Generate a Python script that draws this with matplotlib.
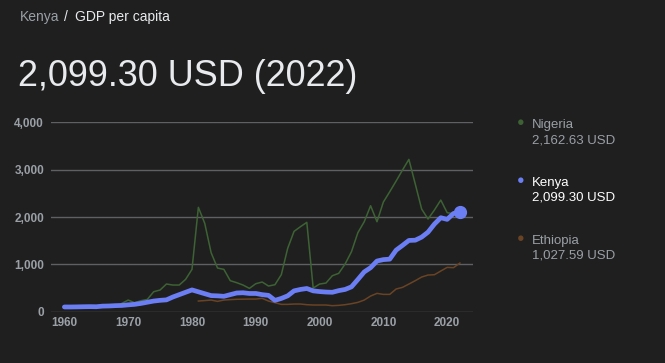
import matplotlib
matplotlib.use("Agg")
import matplotlib.pyplot as plt
from matplotlib.ticker import FuncFormatter

years = list(range(1960, 2023))

kenya = [100, 100, 102, 105, 107, 105, 118, 121, 128, 132,
         145, 155, 175, 200, 225, 240, 250, 310, 360, 410,
         460, 420, 380, 340, 335, 325, 360, 395, 400, 385,
         385, 360, 345, 240, 280, 335, 440, 470, 490, 440,
         425, 415, 410, 445, 470, 525, 680, 840, 930, 1070,
         1100, 1110, 1300, 1400, 1505, 1510, 1575, 1680, 1850, 1985,
         1950, 2075, 2099.30]

nigeria = [93, 97, 106, 112, 116, 113, 114, 98, 96, 176,
           246, 190, 232, 260, 422, 458, 585, 563, 563, 683,
           894, 2204, 1866, 1246, 922, 894, 655, 613, 563, 493,
           591, 627, 542, 570, 781, 1338, 1697, 1795, 1887, 500,
           584, 605, 760, 810, 1007, 1267, 1668, 1900, 2238, 1900,
           2316, 2534, 2760, 2992, 3217, 2696, 2168, 1957, 2147, 2358,
           2091, 2070, 2162.63]

eth_years = list(range(1981, 2023))
ethiopia = [225, 235, 246, 218, 246, 255, 262, 265, 267,
            267, 282, 225, 190, 155, 155, 162, 162, 148, 141,
            141, 141, 127, 134, 148, 169, 197, 246, 331, 387,
            366, 366, 479, 514, 584, 655, 732, 774, 781, 859,
            936, 930, 1027.59]

legend_names = ["Nigeria", "Kenya", "Ethiopia"]
legend_values = ["2,162.63 USD", "2,099.30 USD", "1,027.59 USD"]

bg = "#1f1f1f"
c_kenya = "#6c7ef4"
c_nigeria = "#3d6234"
c_ethiopia = "#6a4324"
c_grid = "#5f6063"
c_tick = "#9aa0a6"

fig = plt.figure(figsize=(6.65, 3.63), dpi=100, facecolor=bg)
plt.rcParams['font.family'] = ['Liberation Sans', 'DejaVu Sans']

ax = fig.add_axes([51 / 665, 1 - 311.7 / 363, 422 / 665, 189.4 / 363])
ax.set_facecolor(bg)

ax.plot(years, nigeria, color=c_nigeria, lw=1.1, clip_on=False, zorder=3)
ax.plot(eth_years, ethiopia, color=c_ethiopia, lw=1.1, clip_on=False, zorder=3)
ax.plot(years, kenya, color=c_kenya, lw=3.4, clip_on=False, zorder=4,
        solid_capstyle='round', solid_joinstyle='round')
ax.plot([years[-1]], [kenya[-1]], 'o', color=c_kenya, ms=8.5, clip_on=False, zorder=5)

ax.set_xlim(1957.9, 2024.05)
ax.set_ylim(0, 4000)
ax.set_yticks([0, 1000, 2000, 3000, 4000])
ax.set_xticks(list(range(1960, 2021, 10)))
ax.yaxis.set_major_formatter(FuncFormatter(lambda v, p: f"{int(v):,}"))
ax.grid(axis='y', color=c_grid, lw=1)
ax.set_axisbelow(True)
for s in ax.spines.values():
    s.set_visible(False)
ax.tick_params(axis='y', length=0, pad=5, labelcolor=c_tick, labelsize=8.5)
ax.tick_params(axis='x', length=0, pad=4, labelcolor=c_tick, labelsize=8.5)
for lab in ax.get_xticklabels() + ax.get_yticklabels():
    lab.set_fontweight('bold')

# header
fig.text(20 / 665, 1 - 21 / 363, "Kenya", color=c_tick, fontsize=10, va='baseline')
fig.text(64 / 665, 1 - 21 / 363, "/", color="#e8eaed", fontsize=10, va='baseline')
fig.text(75 / 665, 1 - 21 / 363, "GDP per capita", color="#e8eaed", fontsize=10, va='baseline')
fig.text(18 / 665, 1 - 86 / 363, "2,099.30 USD (2022)", color="#e8eaed", fontsize=25.9, va='baseline')

# legend
legend_colors = [c_nigeria, c_kenya, c_ethiopia]
dot_y = [123.5, 181, 239]
for i in range(3):
    y = dot_y[i]
    fig.text(521 / 665, 1 - y / 363, "\u25cf", color=legend_colors[i], fontsize=9,
             ha='center', va='center')
    col = "#ffffff" if legend_names[i] == "Kenya" else c_tick
    fig.text(532 / 665, 1 - (y + 4.8) / 363, legend_names[i], color=col,
             fontsize=9.5, va='baseline')
    fig.text(532 / 665, 1 - (y + 19.8) / 363, legend_values[i], color=col,
             fontsize=9.5, va='baseline')

fig.savefig("out.png", dpi=100, facecolor=bg)
